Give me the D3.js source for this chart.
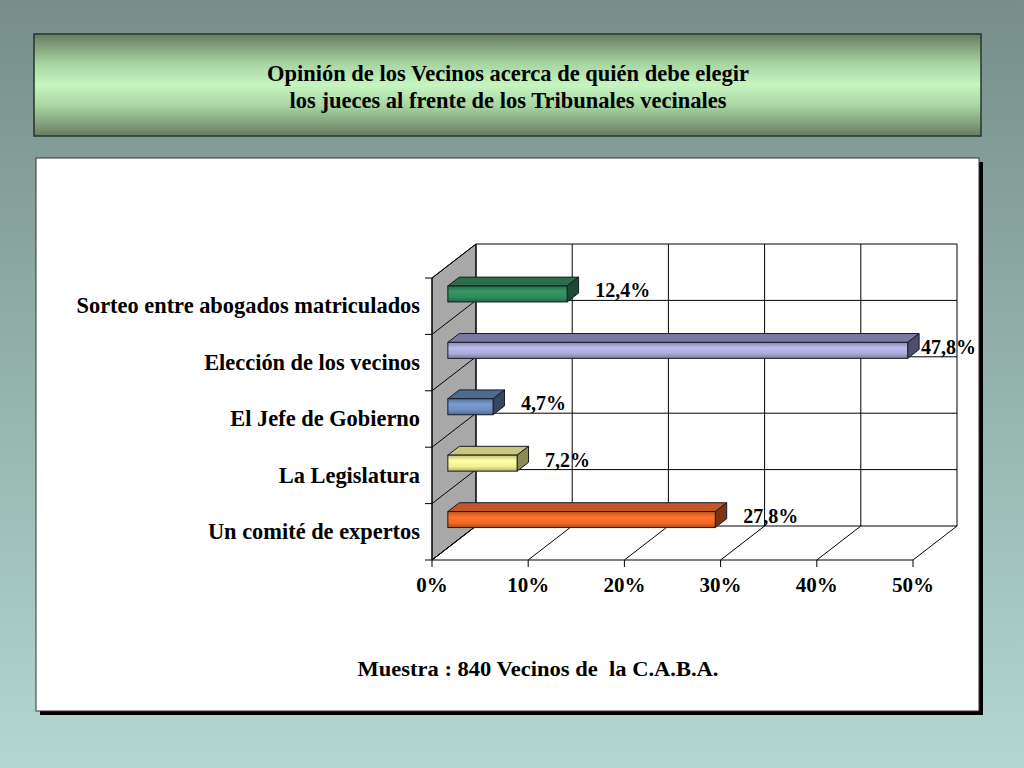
<!DOCTYPE html>
<html>
<head>
<meta charset="utf-8">
<script src="https://cdn.jsdelivr.net/npm/d3@7"></script>
<style>
  body { margin: 0; }
  text { font-family: "Liberation Serif", "Times New Roman", serif; font-weight: bold; fill: #000; }
</style>
</head>
<body>
<div id="chart"></div>
<script>
// data
const categories = [
  "Sorteo entre abogados matriculados",
  "Elección de los vecinos",
  "El Jefe de Gobierno",
  "La Legislatura",
  "Un comité de expertos"
];
const values = [12.4, 47.8, 4.7, 7.2, 27.8];
const xTicks = [0, 10, 20, 30, 40, 50];
const titleLines = [
  "Opinión de los Vecinos acerca de quién debe elegir",
  "los jueces al frente de los Tribunales vecinales"
];
const footnote = "Muestra : 840 Vecinos de  la C.A.B.A.";

// face colours per bar: front, top, side
const palette = [
  ["#2f8b5c", "#2a6e4a", "#1c4a33"],
  ["#ababd9", "#7a7aa2", "#4e4e6c"],
  ["#6f8fc0", "#4f6a90", "#364660"],
  ["#f2f294", "#c9c878", "#8c8b55"],
  ["#f26a28", "#c4572a", "#7a3416"]
];

const width = 1024, height = 768;
const depth = { dx: 44, dy: -34 };   // 3d offset of the back wall
const barFront = 0.36, barBack = 0.62, barH = 16;

const svg = d3.select("#chart").append("svg")
  .attr("width", width)
  .attr("height", height);

const defs = svg.append("defs");

function vGrad(id, stops) {
  const g = defs.append("linearGradient").attr("id", id)
    .attr("x1", 0).attr("y1", 0).attr("x2", 0).attr("y2", 1);
  stops.forEach(s => g.append("stop").attr("offset", s[0]).attr("stop-color", s[1]));
}

vGrad("bg", [[0, "#778e89"], [1, "#b2d7d1"]]);
vGrad("titleBg", [[0, "#687c62"], [0.3, "#a9d6a3"], [0.5, "#c6f5c0"], [0.7, "#a9d6a3"], [1, "#687c62"]]);
palette.forEach((p, i) => {
  const c = d3.color(p[0]);
  vGrad("bar" + i, [[0, c.darker(0.6)], [0.35, c.brighter(0.25)], [0.7, c], [1, c.darker(0.9)]]);
});

// page background
svg.append("rect").attr("width", width).attr("height", height).attr("fill", "url(#bg)");

// title box
svg.append("rect")
  .attr("x", 34).attr("y", 34).attr("width", 947).attr("height", 102)
  .attr("fill", "url(#titleBg)")
  .attr("stroke", "#26352a").attr("stroke-width", 1.5);

svg.append("g").selectAll("text")
  .data(titleLines)
  .join("text")
  .attr("x", 508)
  .attr("y", (d, i) => 81 + i * 27)
  .attr("text-anchor", "middle")
  .attr("font-size", 22.5)
  .text(d => d);

// chart panel with shadow
svg.append("rect")
  .attr("x", 40).attr("y", 162).attr("width", 943).attr("height", 553)
  .attr("fill", "#000");
svg.append("rect")
  .attr("x", 36).attr("y", 158).attr("width", 943).attr("height", 553)
  .attr("fill", "#fff")
  .attr("stroke", "#333").attr("stroke-width", 1);

// scales
const x = d3.scaleLinear().domain([0, 50]).range([432, 913]);
const y = d3.scaleBand().domain(categories).range([278, 560]);

const yTop = y.range()[0], yBottom = y.range()[1];
const bounds = categories.map(c => y(c)).concat([yBottom]);
const x0 = x(0), x1 = x(50);

const plot = svg.append("g").attr("stroke", "#000").attr("stroke-width", 1).attr("fill", "none");

// left wall
plot.append("path")
  .attr("fill", "#a8a8a8")
  .attr("d", d3.line()([
    [x0, yTop], [x0 + depth.dx, yTop + depth.dy],
    [x0 + depth.dx, yBottom + depth.dy], [x0, yBottom]
  ]) + "Z");

// back wall verticals
plot.selectAll(".vgrid")
  .data(xTicks)
  .join("line")
  .attr("x1", d => x(d) + depth.dx).attr("x2", d => x(d) + depth.dx)
  .attr("y1", yTop + depth.dy).attr("y2", yBottom + depth.dy);

// back wall horizontals
plot.selectAll(".hgrid")
  .data(bounds)
  .join("line")
  .attr("x1", x0 + depth.dx).attr("x2", x1 + depth.dx)
  .attr("y1", d => d + depth.dy).attr("y2", d => d + depth.dy);

// wall diagonals
plot.selectAll(".wdiag")
  .data(bounds)
  .join("line")
  .attr("x1", x0).attr("x2", x0 + depth.dx)
  .attr("y1", d => d).attr("y2", d => d + depth.dy);

// floor diagonals
plot.selectAll(".fdiag")
  .data(xTicks)
  .join("line")
  .attr("x1", d => x(d)).attr("x2", d => x(d) + depth.dx)
  .attr("y1", yBottom).attr("y2", yBottom + depth.dy);

// front axis lines
plot.append("line").attr("x1", x0).attr("x2", x0).attr("y1", yTop).attr("y2", yBottom);
plot.append("line").attr("x1", x0).attr("x2", x1).attr("y1", yBottom).attr("y2", yBottom);

// ticks
plot.selectAll(".ytick")
  .data(bounds)
  .join("line")
  .attr("x1", x0 - 7).attr("x2", x0)
  .attr("y1", d => d).attr("y2", d => d);
plot.selectAll(".xtick")
  .data(xTicks)
  .join("line")
  .attr("x1", d => x(d)).attr("x2", d => x(d))
  .attr("y1", yBottom).attr("y2", yBottom + 7);

// x tick labels
svg.append("g").selectAll("text")
  .data(xTicks)
  .join("text")
  .attr("x", d => x(d))
  .attr("y", 592)
  .attr("text-anchor", "middle")
  .attr("font-size", 21)
  .text(d => d + "%");

// category labels
svg.append("g").selectAll("text")
  .data(categories)
  .join("text")
  .attr("x", 420)
  .attr("y", d => y(d) + y.bandwidth() / 2)
  .attr("dy", "0.32em")
  .attr("text-anchor", "end")
  .attr("font-size", 22.4)
  .text(d => d);

// bars
const ddx = depth.dx * (barBack - barFront), ddy = depth.dy * (barBack - barFront);
const bars = svg.append("g").selectAll("g")
  .data(categories.map((c, i) => ({ c, v: values[i], i })))
  .join("g")
  .attr("stroke", "#1a1a2a")
  .attr("stroke-width", 1);

function barGeom(d) {
  const left = x(0) + depth.dx * barFront;
  const right = x(d.v) + depth.dx * barFront;
  const cy = y(d.c) + y.bandwidth() / 2 + depth.dy * barFront;
  return { left, right, top: cy - barH / 2, bottom: cy + barH / 2, cy };
}

bars.append("path")
  .attr("fill", d => palette[d.i][1])
  .attr("d", d => {
    const g = barGeom(d);
    return d3.line()([[g.left, g.top], [g.right, g.top], [g.right + ddx, g.top + ddy], [g.left + ddx, g.top + ddy]]) + "Z";
  });
bars.append("path")
  .attr("fill", d => palette[d.i][2])
  .attr("d", d => {
    const g = barGeom(d);
    return d3.line()([[g.right, g.top], [g.right + ddx, g.top + ddy], [g.right + ddx, g.bottom + ddy], [g.right, g.bottom]]) + "Z";
  });
bars.append("rect")
  .attr("fill", d => "url(#bar" + d.i + ")")
  .attr("x", d => barGeom(d).left)
  .attr("y", d => barGeom(d).top)
  .attr("width", d => barGeom(d).right - barGeom(d).left)
  .attr("height", barH);

// value labels
const fmt = d3.formatLocale({ decimal: ",", thousands: ".", grouping: [3], currency: ["", ""] }).format(".1f");
svg.append("g").selectAll("text")
  .data(categories.map((c, i) => ({ c, v: values[i], i })))
  .join("text")
  .attr("x", d => Math.min(barGeom(d).right + 28, 921))
  .attr("y", d => barGeom(d).cy + 3.5)
  .attr("font-size", 20)
  .text(d => fmt(d.v) + "%");

// footnote
svg.append("text")
  .attr("x", 538)
  .attr("y", 676)
  .attr("text-anchor", "middle")
  .attr("font-size", 22)
  .attr("textLength", 361)
  .attr("lengthAdjust", "spacingAndGlyphs")
  .style("white-space", "pre")
  .text(footnote);
</script>
</body>
</html>
